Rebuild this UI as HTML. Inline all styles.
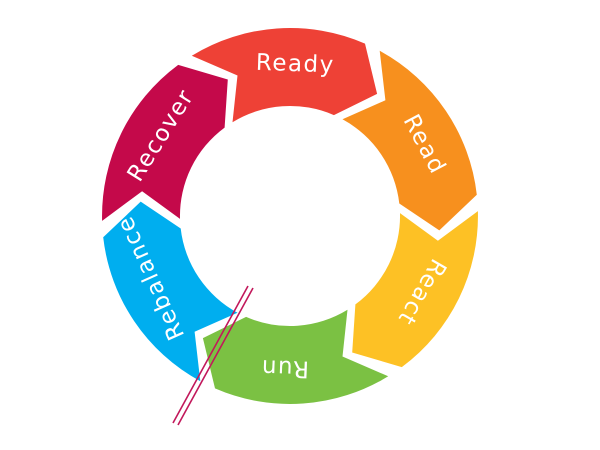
<!DOCTYPE html>
<html><head><meta charset="utf-8"><style>
html,body{margin:0;padding:0;background:#fff;width:600px;height:450px;overflow:hidden}
svg text{font-family:"DejaVu Sans","Liberation Sans",sans-serif;font-size:23px;fill:#fff;letter-spacing:1.5px}
</style></head><body>
<svg id="s" width="600" height="450" viewBox="0 0 600 450" xmlns="http://www.w3.org/2000/svg">
<g id="segs"></g>
<g id="labels"></g>
<line x1="248" y1="286" x2="173" y2="423" stroke="#c2185b" stroke-width="1.6"/>
<line x1="253" y1="288" x2="178" y2="425" stroke="#c2185b" stroke-width="1.6"/>
</svg>
<script>
var cx=290,cy=216,R=188,r=110,M=150;
function P(rad,a){a=a*Math.PI/180;return [(cx+rad*Math.sin(a)).toFixed(1),(cy-rad*Math.cos(a)).toFixed(1)];}
var segs=[
 ["Ready","#ee4136",-32.5,2],
 ["Read","#f7901e",27.5,62],
 ["React","#fdc125",87.5,120],
 ["Run","#7bc143",147.5,182],
 ["Rebalance","#00aeef",207.5,246],
 ["Recover","#c4094a",267.5,302]];
var g=document.getElementById('segs'),L=document.getElementById('labels'),ns="http://www.w3.org/2000/svg";
segs.forEach(function(s){
 var a0=s[2],a1=a0+60;
 var t0=a0+1,n0=a0+12,h0=a1-4,hp=a1+8;
 var o1=P(R,t0),o2=P(R,h0),hpP=P(M,hp),i2=P(r,h0),i1=P(r,t0),nt=P(M,n0);
 var d="M"+o1+" A"+R+" "+R+" 0 0 1 "+o2+" L"+hpP+" L"+i2+" A"+r+" "+r+" 0 0 0 "+i1+" L"+nt+" Z";
 var p=document.createElementNS(ns,"path");p.setAttribute("d",d);p.setAttribute("fill",s[1]);g.appendChild(p);
 var c=P(152,s[3]);
 var t=document.createElementNS(ns,"text");
 t.setAttribute("x",0);t.setAttribute("y",0);t.setAttribute("text-anchor","middle");t.setAttribute("dominant-baseline","central");
 t.setAttribute("transform","translate("+c[0]+","+c[1]+") rotate("+s[3]+")");
 t.textContent=s[0];L.appendChild(t);
});
</script>
</body></html>
